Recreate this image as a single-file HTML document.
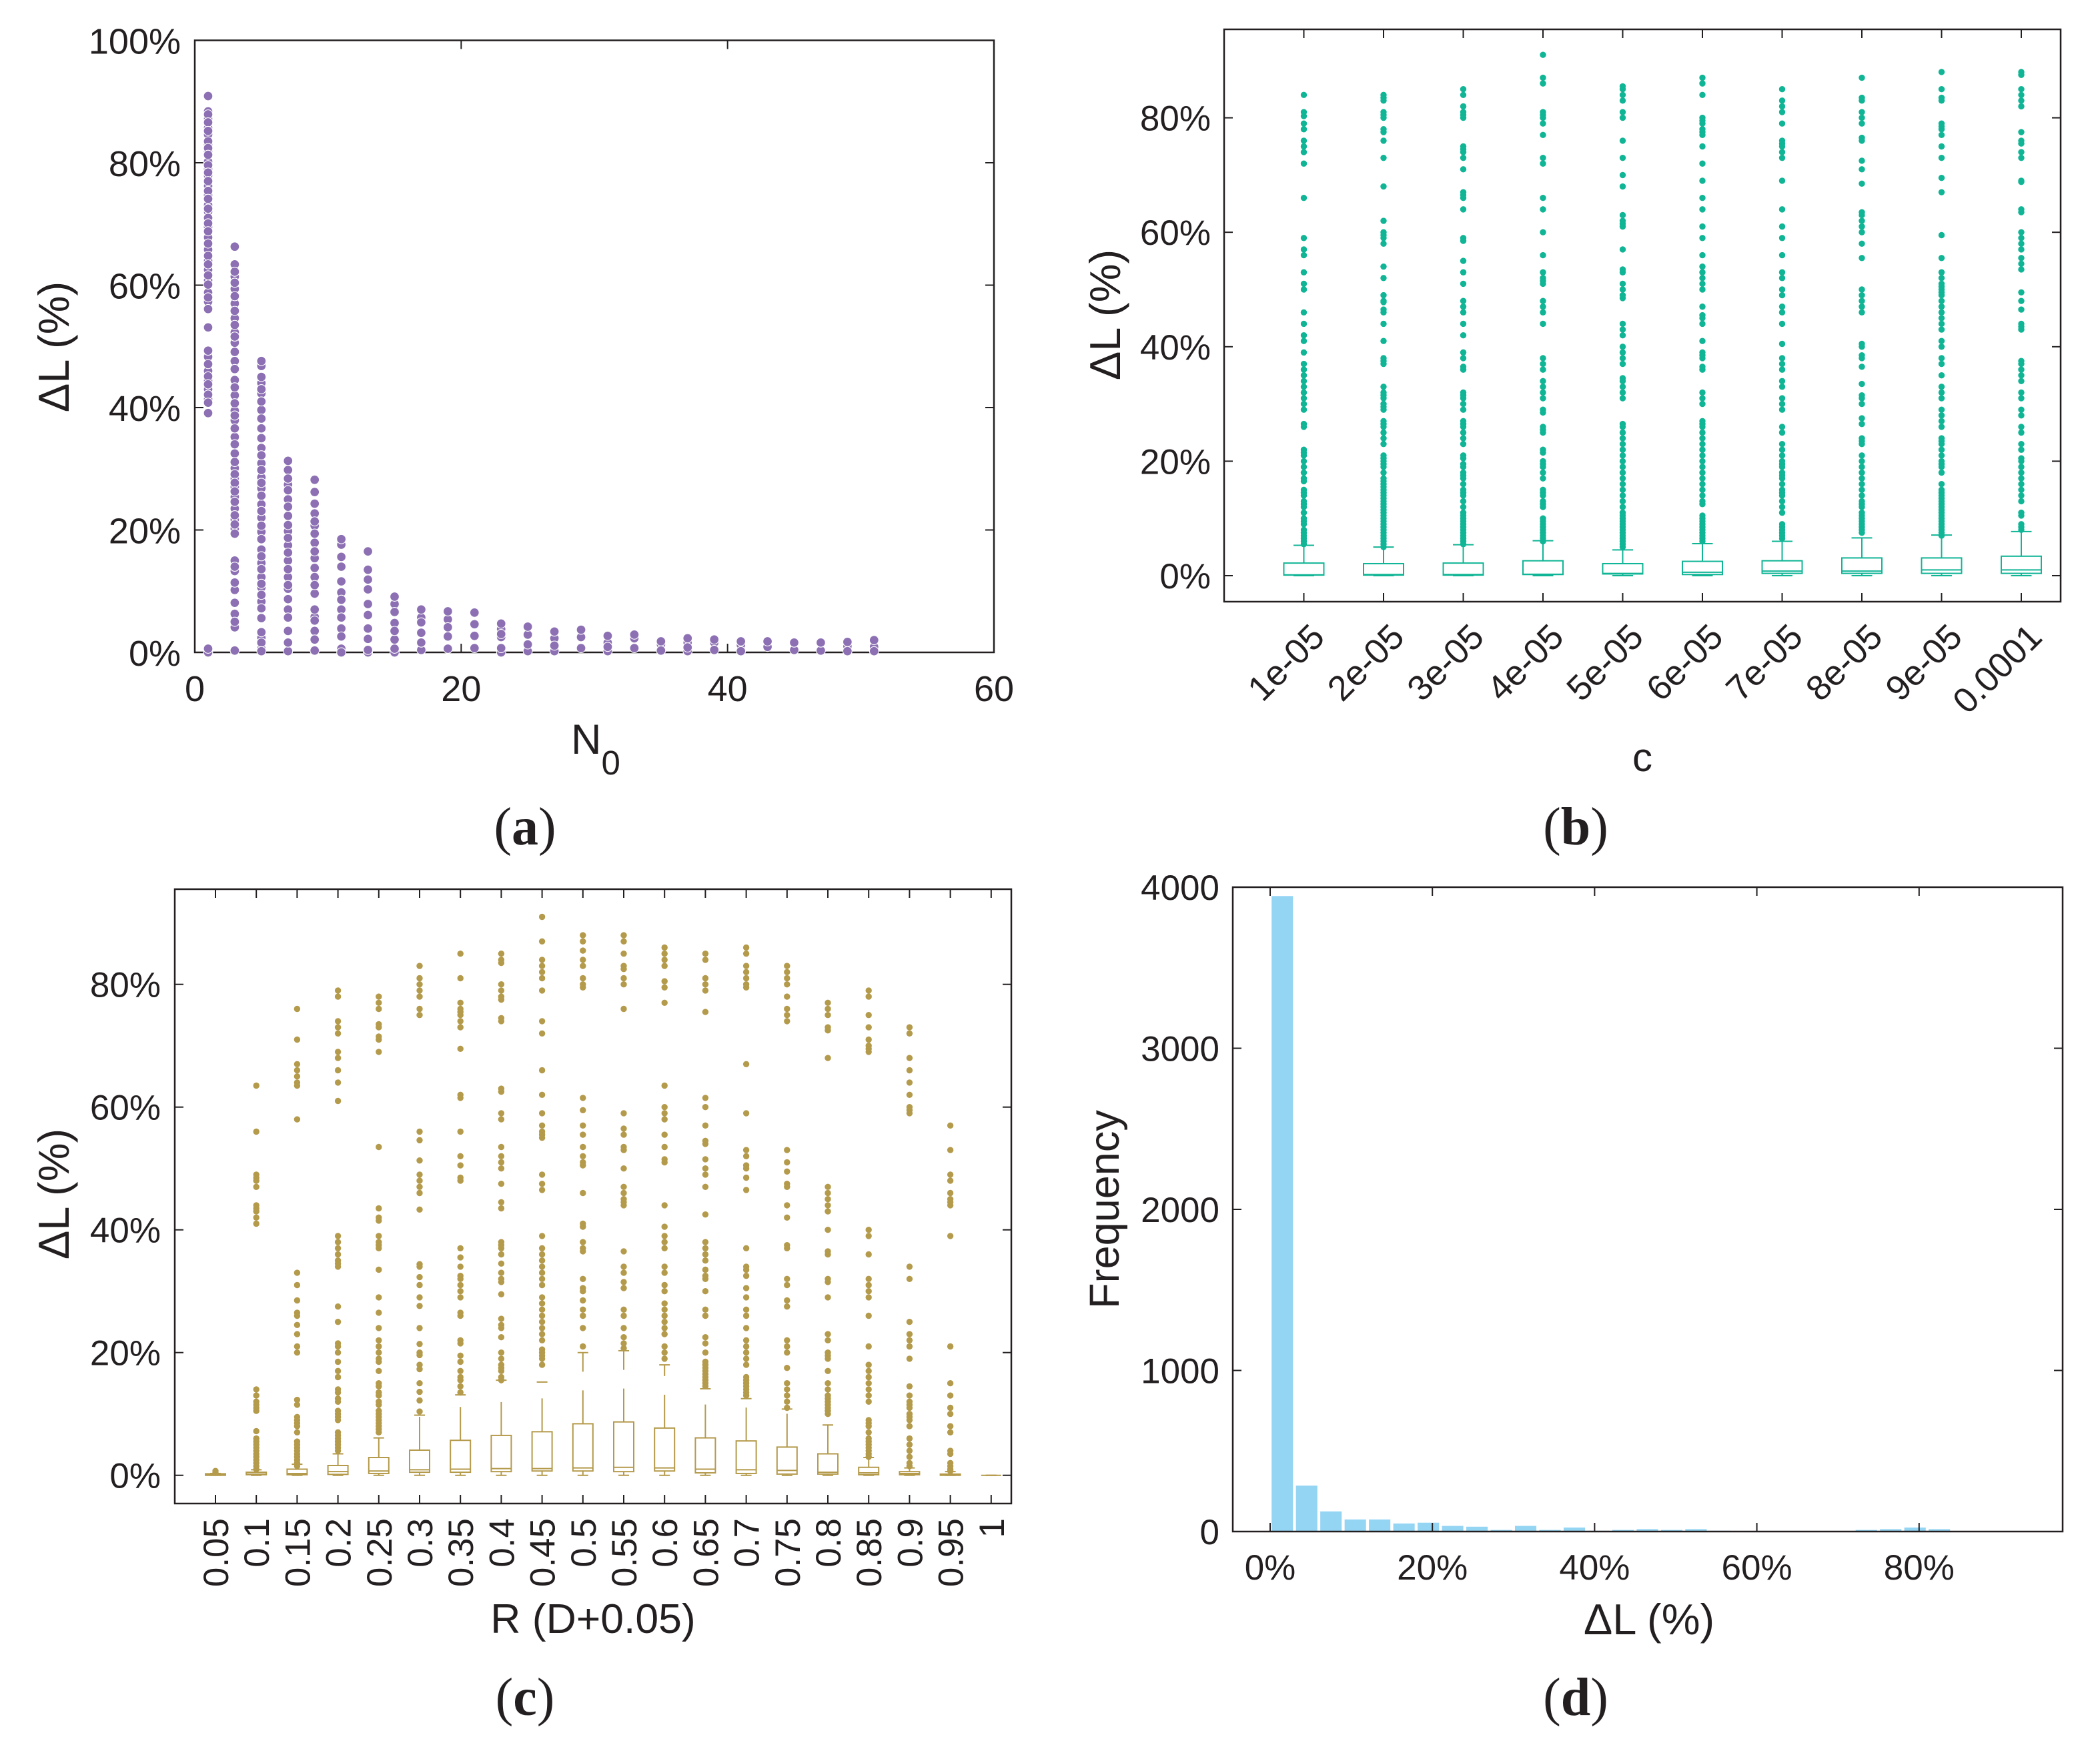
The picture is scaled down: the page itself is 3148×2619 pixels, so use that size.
<!DOCTYPE html>
<html lang="en">
<head>
<meta charset="utf-8">
<title>Four-panel chart of delta L</title>
<style>
html,body{margin:0;padding:0;background:#fff}
svg{display:block}
text{font-family:"Liberation Sans",sans-serif;fill:#231f20}
.cap{font-family:"Liberation Serif",serif;font-size:80px}
</style>
</head>
<body>
<svg id="figure" xmlns="http://www.w3.org/2000/svg" width="3148" height="2619" viewBox="0 0 3148 2619">
<rect width="3148" height="2619" fill="#fff"/>
<g id="a"></g>
<g id="b"></g>
<g id="c"></g>
<g id="d"></g>

<text font-size="65" text-anchor="middle" transform="translate(103 520) rotate(-90)">ΔL (%)</text>
<text font-size="63" x="856" y="1130">N<tspan font-size="51" dy="31">0</tspan></text>
<text font-size="65" text-anchor="middle" transform="translate(1679 472) rotate(-90)">ΔL (%)</text>
<text font-size="60" text-anchor="middle" x="2462" y="1156">c</text>
<text font-size="65" text-anchor="middle" transform="translate(103 1790) rotate(-90)">ΔL (%)</text>
<text font-size="62.5" text-anchor="middle" x="889" y="2448">R (D+0.05)</text>
<text font-size="63" text-anchor="middle" transform="translate(1677 1813) rotate(-90)">Frequency</text>
<text font-size="65" text-anchor="middle" x="2472" y="2450">ΔL (%)</text>

<text class="cap" text-anchor="middle" x="787" y="1266">(<tspan font-weight="bold">a</tspan>)</text>
<text class="cap" text-anchor="middle" x="2362" y="1266">(<tspan font-weight="bold">b</tspan>)</text>
<text class="cap" text-anchor="middle" x="787" y="2571">(<tspan font-weight="bold">c</tspan>)</text>
<text class="cap" text-anchor="middle" x="2362" y="2571">(<tspan font-weight="bold">d</tspan>)</text>
</svg>
<script>
// ---------- Panel (a) data ----------
const aXTicks = [0, 20, 40, 60];
const aYTicks = [0, 20, 40, 60, 80, 100];
const aN0 = [1,3,5,7,9,11,13,15,17,19,21,23,25,27,29,31,33,35,37,39,41,43,45,47,49,51];
const aLoss = [
[90.9,88.4,87.9,87.2,86.6,85.7,85.2,84.6,83.5,83,82.4,81.9,81.3,80.2,79.6,79,78.4,77.9,77,76.2,75.4,74.7,74.1,73.1,72.5,72,71,70.5,70.1,69.5,68.8,67.8,66.8,65.8,64.8,64,63.4,62.5,61.6,60.8,60.1,58.8,58,57.3,56.1,53.1,49.3,48.3,47.1,46,45.1,44.4,43.8,43,42.1,41.4,40.8,39.1,0.6,0],
[66.3,63.4,62.2,61.4,60.4,59.4,58.2,57,55.8,54.6,53.5,52.3,51.6,50.6,49.1,47.6,46.3,44.5,43.3,42,40.7,39.5,38.7,37.9,36.6,35.2,34,32.5,31.1,30.1,29.1,28.4,27.7,27,26.3,25.4,24.6,23.5,22.4,21.7,20.9,20.2,19.4,15,14,13.3,11.4,10.2,8.1,6.3,5,4.1,0.3],
[47.6,46.8,45,44,43,42.3,41,39.6,38.2,36.6,35,33.4,32.2,30.9,29.8,28.6,27.7,26.8,25.6,24.2,23.1,22,20.7,19.7,18.5,16.8,15.7,14.6,13.6,12.3,11.2,10.6,9.4,8.3,7.2,5.6,3.3,2.4,1.6,0.6,0.2],
[31.3,29.8,28.4,27.4,26.5,25,23.8,22.3,20.8,19.8,18.7,17.5,16.3,15,13.6,12.3,11,10.4,8.7,7,5.7,3.5,1.6,0.2],
[28.2,26.2,24.3,22.7,21.4,20.7,19.4,17.9,16.5,15.4,13.8,12.3,11,9.6,7,5.8,5.2,3.5,2.1,0.3],
[18.5,17.6,15.6,14,11.6,9.8,8.6,7,5.7,3.9,2.6,0.6,0],
[16.5,13.5,11.9,10.3,7.9,6.1,3.9,2.2,0.4,0],
[9.1,7.9,6.6,4.8,3.5,2.1,0.6,0],
[7,5.7,4.9,3.2,1.6,0.4],
[6.7,5.4,4.1,2.6,0.6],
[6.5,4.6,2.7,0.7],
[4.7,3.8,3,2.5,0.7,0],
[4.2,2.9,1.3,0.2],
[3.4,2.3,1.1,0.2],
[3.7,2.5,0.7],
[2.7,1.6,0.9,0.2],
[2.9,2.3,0.7],
[1.8,1.3,0.3],
[2.3,1.6,0.8,0.2],
[2.1,1.6,0.4],
[1.8,1.2,0.2],
[1.8,0.9],
[1.6,0.4],
[1.6,0.3],
[1.7,1,0.2],
[2,0.9,0.2]
];

// ---------- Panel (b) data ----------
const bCategories = ["1e-05","2e-05","3e-05","4e-05","5e-05","6e-05","7e-05","8e-05","9e-05","0.0001"];
const bYTicks = [0, 20, 40, 60, 80];
const bQ1 = [0.1,0.1,0.1,0.2,0.3,0.2,0.4,0.4,0.4,0.4];
const bMedian = [0.15,0.2,0.2,0.25,0.4,0.6,0.8,0.8,1,1];
const bQ3 = [2.2,2.1,2.2,2.6,2.1,2.5,2.6,3.1,3.1,3.4];
const bWhiskerHigh = [5.3,5,5.4,6.1,4.5,5.6,6,6.6,7.1,7.7];
const bWhiskerLow = [0,0,0,0,0,0,0,0,0,0];
const bOutliers = [
[84,81,80.3,79,78,76,75,74,72,66,59,57,56,53,51,50,46,44,42,41,39,37,36,35,34,33,32,31,30,29,26.5,26,22,21.5,21,20,19,18,17,16.5,15,14.5,14,13,12.5,12,11,10,9.5,9,8,7.5,7,6.5,6,5.5],
[84,83.5,83,81,80.5,80,78,77.5,76,73,68,62,60,59.5,59,58,54,52,49,48,47.8,46.5,46,44,41,38,37.5,37,33,32,31.5,31,30,29.5,29,27,26.5,26,25,24,23,21,20.5,20,19.5,19,18,17,16.5,16,15.5,15,14.5,14,13.5,13,12.5,12,11.5,11,10.5,10,9.5,9,8.5,8,7.5,7,6.5,6,5.5,5],
[85,84,82,81,80.5,80,75,74.5,74,73,71,67,66.5,66,64,59,58.5,55,53,51,48,47,46,44,42,39,38,36.5,36,32,31.5,31,30,29,27,26.5,26,25,24,23,21,20.5,19.5,19,18,17.5,17,16,15,14.5,14,13,12,11,10.5,10,9.5,9,8.5,8,7.5,7,6.5,6,5.5],
[91,87,86,81,80.5,80,79,77,73,72,66,64,60,56,53,52,51.5,51,48,47,46,44,38,37,36,34,33,32,31,29,28.5,26,25.5,25,22,21.5,20,19.5,19,18,17,15,14.5,14,13,12.5,12,10,9.5,9,8.5,8,7.5,7,6.5,6],
[85.5,85,84,83,81,80,76,73,70,68,63,62,61.5,61,57,53.5,53,51,50,49,48.5,44,43,42,40,39,38,37,34.5,34,33,32,31,26.5,26,25,24,23,22,21,20,19,18,17,16,15,14,13,12,11,10.5,10,9.5,9,8.5,8,7.5,7,6.5,6,5.5,5],
[87,86,84,80,79.5,79,78,77.5,77,75,72,69,66,64,61,59,56,54,53,52,51,50,47,45.5,45,44,41,39,38.5,38,36.5,36,32,31,30,27,26.5,26,25,24,23,22,21,20,19,18,17,16,15,14,13,12.5,10.5,10,9.5,9,8.5,8,7.5,7,6.5,6],
[85,83,82,81,79,76,75.5,75,74,73,69,64,61,59,56,53,52,50,49,47,46,44,40.5,38,37,36,34,33,31,30,29,26,25,23,22,21,20,19.5,19,18,17.5,17,16,15,14.5,14,13,12,11,9,8.5,8,7.5,7,6.5],
[87,83.5,83,81,80,79,76.5,76,72.5,71,68.5,63.5,63,62,61,60,58,55.5,50,49,48,47,46,40.5,40,38.5,38,36.5,33.5,31.5,31,30,27.5,26.5,24,23.5,23,21,20,19,18,17,16,15,14,13,12.5,12,11,10.5,10,9.5,9,8.5,8,7.5],
[88,85,83.5,83,79,78.5,78,77,75,73,69.5,67,59.5,55.5,53,52,51,50.5,50,49.5,49,48,47,46,45,44,43,41,40,38,37,35,33,32,31,29,28,27,26,24,23.5,23,22,21,20,19.5,19,18,16,15,14.5,14,13.5,13,12.5,12,11.5,11,10.5,10,9.5,9,8.5,8,7.5,7],
[88,87.5,85,84,83,82,77.5,76,75.5,74,73,69,68.8,64,63.5,60,59,58,57,55.5,54.5,53.5,49.5,48,46.5,44,43.5,43,37.5,37,36,35,34,32,31,29,28,26,25,23,22,20.5,20,19,18,17,16,15,14,13,11,10.5,9,8.5,8]
];

// ---------- Panel (c) data ----------
const cCategories = ["0.05","0.1","0.15","0.2","0.25","0.3","0.35","0.4","0.45","0.5","0.55","0.6","0.65","0.7","0.75","0.8","0.85","0.9","0.95","1"];
const cYTicks = [0, 20, 40, 60, 80];
const cQ1 = [0,0.1,0.1,0.15,0.3,0.5,0.5,0.6,0.7,0.7,0.6,0.7,0.4,0.3,0.2,0.2,0.1,0.1,0,0];
const cMedian = [0.1,0.2,0.3,0.6,0.7,0.9,1,1.1,1.1,1.2,1.3,1.2,1,0.9,0.8,0.5,0.4,0.3,0.05,0];
const cQ3 = [0.25,0.5,1,1.6,2.9,4.1,5.7,6.5,7.1,8.4,8.7,7.7,6.1,5.6,4.6,3.5,1.3,0.6,0.2,0];
const cWhiskerHigh = [0.3,0.9,1.8,3.5,6.1,9.8,13.1,15.5,15.2,20,20.3,18,14.1,12.5,10.8,8.2,2.9,1.2,0.6,0];
const cWhiskerLow = [0,0,0,0,0,0,0,0,0,0,0,0,0,0,0,0,0,0,0,0];
const cOutliers = [
[0.7,0.4],
[63.5,56,49,48.5,48,47,44,43.5,43,42,41,14,13,12,11.5,11,10.5,7.2,6,5.5,5,4.5,4,3.5,3,2.5,2,1.5,1],
[76,71,67,66,65,64,63.5,58,33,31,28.5,26.5,26,24.5,23,21,20,12.3,11.5,9.5,9,8.5,8,7,5.5,5,4.5,4,3.5,3,2.5,2,1.5],
[79,78,74,73,72,69,68,66,64,61,39,38,37,36,35,34.5,34,27.5,25,21.5,21,20,18.5,17,16,14,13.5,12.5,12,10.5,10,9.5,9,7,6.5,6,5.5,5,4.5,4],
[78,77,76,73.5,73,71.5,71,69,53.5,43.5,42,41.5,39,38,37.5,37,33.5,29,26.5,24,22,21,20,19,18.5,17,15,14.5,13.5,13,12,11.5,10.5,10,9.5,9,8.5,8,7.5,7],
[83,81,80,79,78,76,75,56,54.6,51.3,49,48,47,46,43.3,34.4,34,32.3,31,29,27.6,24,21.4,20,19.6,18,17.3,15,13.6,12.2,10.4],
[85,81,77,76,75.5,75,74,73,69.5,62,61.5,56,52,50.5,48.5,48,37,35.5,34,32.5,32,31,30,29,26.5,26,22,21.5,19.5,18.5,17,16,15.5,14.5,13.5],
[85,84,83.5,80,79,78,77.5,74.5,74,63,62.5,59,58,53.5,52,51,50,47.5,44.5,43.5,38,37.5,37,36,34.5,33,32,31.5,29.5,25.5,24.5,24,22.5,20,19,18,17.5,17,16,15.5],
[91,87,84,83,82,81,79,74,72,66,62,59,57,56,55.5,55,49,47.5,46.5,39,37,36,35,34,33,32,31,29,28,27,26,25,24,23,22,20.5,20,19.5,19,18],
[88,87,85.5,84,83,81,80,79.5,61.5,59.5,57,55.5,53.5,52,51,50.5,46,41,40.5,38,37,36.5,32,30.5,30,28.5,27,26,24,21],
[88,87,85,83,82.5,81,80,76,59,56.5,55.5,53.5,53,50,47,46,45,44.5,44,36.5,34,33,31.5,30.5,27,26,24,22.5,21.5,20.7],
[86,85,84,83,80.5,79.5,77,63.5,60,59,58,55.5,53.5,51.5,51,44,40.5,39,38,37,34,33,31,30,28,27,26,25,24,23,21,20,19],
[85,84,81,80,79,75.5,61.5,60,57,54.5,54,51.5,50,49,47,42.5,38,37,36,35,33.5,32.5,32,30,27,26,22.5,21.5,20,18.5,18,17.5,17,16.5,16,15.5,15,14.5],
[86,85,83,82,81,80,79.5,67,59,53,52,50.5,50,48.5,46.5,37,34,33.5,32.5,30.5,29,27,26,24,22,21,20,19,18,16,15.5,15,14.5,14,13.5,13],
[83,82,81,80,78,76,75,74,53,51,49.5,47.5,47,44,42,37.5,37,32,31,28.5,27.5,22,21,20,17.5,15,14,13,12,11],
[77,76,75,73,72.5,68,47,46,45,44,43,40,36.5,36,32,31.5,29,23,22,20,19.5,19,17,15,14,13,12.5,12,11.5,11,10.5,10],
[79,78,75,73,71,70,69.5,69,40,39,36,32,31,30,29,26,21,18,17,16,15,14,13,12,9,8.5,8,7,6,5.5,5,4.5,4,3.5,3],
[73,72,68,66,64,62,60,59.5,59,34,32,25,23,22,21,19,14.5,13,12,11.5,11,10,9.5,9,8,6,5,4,3,2,1.5],
[57,53,49,48,46,45,44.5,44,39,21,15,13,11,10,8,7,4,3.5,2,1.5,1,0.7],
[]
];

// ---------- Panel (d) data ----------
const dXTicks = [0, 20, 40, 60, 80];
const dYTicks = [0, 1000, 2000, 3000, 4000];
const dBinWidth = 3;
const dFrequency = [3945,285,125,75,75,50,55,35,30,10,35,10,25,5,10,15,10,15,5,3,0,0,0,0,10,15,25,15];

// ---------- Helpers ----------
const NS = 'http://www.w3.org/2000/svg';
const INK = '#231f20';
function make(parent, tag, attrs) {
  const node = document.createElementNS(NS, tag);
  for (const k in attrs) node.setAttribute(k, attrs[k]);
  parent.appendChild(node);
  return node;
}
function tickLabel(parent, text, x, y, size, anchor, rotate) {
  const attrs = {x: x, y: y, 'font-size': size, 'text-anchor': anchor};
  if (rotate) attrs.transform = 'rotate(' + rotate + ' ' + x + ' ' + y + ')';
  const t = make(parent, 'text', attrs);
  
  
  t.textContent = text;
  return t;
}
function tick(parent, x1, y1, x2, y2) {
  const l = make(parent, 'line', {x1: x1, y1: y1, x2: x2, y2: y2, stroke: INK, 'stroke-width': 2});
  
  
}
function frame(parent, box) {
  const r = make(parent, 'rect', {x: box.l, y: box.t, width: box.r - box.l, height: box.b - box.t, fill: 'none', stroke: INK, 'stroke-width': 2.5});
  
  
}
function xTicks(parent, box, positions) {
  positions.forEach(function (x) {
    tick(parent, x, box.b, x, box.b - 13);
    tick(parent, x, box.t, x, box.t + 13);
  });
}
function yTicks(parent, box, positions) {
  positions.forEach(function (y) {
    tick(parent, box.l, y, box.l + 13, y);
    tick(parent, box.r, y, box.r - 13, y);
  });
}
function dot(parent, x, y, r, color, ring) {
  const attrs = {cx: x, cy: y, r: r, fill: color};
  if (ring) { attrs.stroke = '#fff'; attrs['stroke-width'] = ring; }
  const c = make(parent, 'circle', attrs);
  
  
}
function boxplot(parent, x, halfBox, halfCap, sy, q1, med, q3, hi, lo, color, dash) {
  const w = 2;
  const up = {x1: x, y1: sy(q3), x2: x, y2: sy(hi), stroke: color, 'stroke-width': w};
  if (dash) up['stroke-dasharray'] = dash;
  const whiskerHigh = make(parent, 'line', up);
  
  
  const whiskerLow = make(parent, 'line', {x1: x, y1: sy(q1), x2: x, y2: sy(lo), stroke: color, 'stroke-width': w});
  
  
  const capHigh = make(parent, 'line', {x1: x - halfCap, y1: sy(hi), x2: x + halfCap, y2: sy(hi), stroke: color, 'stroke-width': w});
  
  
  const capLow = make(parent, 'line', {x1: x - halfCap, y1: sy(lo), x2: x + halfCap, y2: sy(lo), stroke: color, 'stroke-width': w});
  
  
  const box = make(parent, 'rect', {x: x - halfBox, y: sy(q3), width: 2 * halfBox, height: sy(q1) - sy(q3), fill: '#fff', stroke: color, 'stroke-width': w});
  
  
  const median = make(parent, 'line', {x1: x - halfBox, y1: sy(med), x2: x + halfBox, y2: sy(med), stroke: color, 'stroke-width': w});
  
  
}

// ---------- Panel (a) ----------
(function () {
  const g = document.getElementById('a');
  const box = {l: 292, r: 1490, t: 60.5, b: 978};
  const sx = function (v) { return box.l + (v / 60) * (box.r - box.l); };
  const sy = function (v) { return box.b - (v / 100) * (box.b - box.t); };
  frame(g, box);
  xTicks(g, box, aXTicks.slice(1, 3).map(sx));
  yTicks(g, box, aYTicks.slice(1, 5).map(sy));
  aXTicks.forEach(function (v) { tickLabel(g, String(v), sx(v), 1051, 54, 'middle'); });
  aYTicks.forEach(function (v) { tickLabel(g, v + '%', 271, sy(v) + 20, 54, 'end'); });
  aN0.forEach(function (n, i) {
    // Alternate draw order so that every other marker stays whole, as in the reference
    aLoss[i].forEach(function (v, k) { if (k % 2 === 1) dot(g, sx(n), sy(v), 6.9, '#8d70b3', 1.1); });
    aLoss[i].forEach(function (v, k) { if (k % 2 === 0) dot(g, sx(n), sy(v), 6.9, '#8d70b3', 1.1); });
  });
})();

// ---------- Panel (b) ----------
(function () {
  const g = document.getElementById('b');
  const box = {l: 1835, r: 3089, t: 44, b: 902};
  const zero = 863, perPct = 8.58;
  const cat0 = 1954.5, step = 119.5;
  const sx = function (i) { return cat0 + i * step; };
  const sy = function (v) { return zero - v * perPct; };
  frame(g, box);
  xTicks(g, box, bCategories.map(function (c, i) { return sx(i); }));
  yTicks(g, box, bYTicks.map(sy));
  bYTicks.forEach(function (v) { tickLabel(g, v + '%', 1815, sy(v) + 19, 53, 'end'); });
  bCategories.forEach(function (c, i) { tickLabel(g, c, sx(i) + 34, 958, 53, 'end', -45); });
  bCategories.forEach(function (c, i) {
    boxplot(g, sx(i), 30, 15.5, sy, bQ1[i], bMedian[i], bQ3[i], bWhiskerHigh[i], bWhiskerLow[i], '#10b596');
    bOutliers[i].forEach(function (v) { dot(g, sx(i), sy(v), 4.7, '#10b596'); });
  });
})();

// ---------- Panel (c) ----------
(function () {
  const g = document.getElementById('c');
  const box = {l: 262, r: 1516, t: 1333, b: 2254};
  const zero = 2211.7, perPct = 9.2;
  const cat0 = 323, step = 61.2;
  const sx = function (i) { return cat0 + i * step; };
  const sy = function (v) { return zero - v * perPct; };
  frame(g, box);
  xTicks(g, box, cCategories.map(function (c, i) { return sx(i); }));
  yTicks(g, box, cYTicks.map(sy));
  cYTicks.forEach(function (v) { tickLabel(g, v + '%', 241, sy(v) + 19, 53, 'end'); });
  cCategories.forEach(function (c, i) { tickLabel(g, c, sx(i) + 19, 2276, 53, 'end', -90); });
  cCategories.forEach(function (c, i) {
    boxplot(g, sx(i), 15, 8, sy, cQ1[i], cMedian[i], cQ3[i], cWhiskerHigh[i], cWhiskerLow[i], '#b49a4b', '50 28');
    cOutliers[i].forEach(function (v) { dot(g, sx(i), sy(v), 4.7, '#b49a4b'); });
  });
})();

// ---------- Panel (d) ----------
(function () {
  const g = document.getElementById('d');
  const box = {l: 1848, r: 3092, t: 1330, b: 2296};
  const zero = 1904, perPct = 12.16;
  const sx = function (v) { return zero + v * perPct; };
  const sy = function (v) { return box.b - (v / 4000) * (box.b - box.t); };
  dFrequency.forEach(function (f, i) {
    const center = sx(dBinWidth * (i + 0.5));
    const width = dBinWidth * perPct * 0.88;
    const bar = make(g, 'rect', {x: center - width / 2, y: sy(f), width: width, height: box.b - sy(f), fill: '#95d5f4'});
    
    
  });
  frame(g, box);
  xTicks(g, box, dXTicks.map(sx));
  yTicks(g, box, dYTicks.slice(1, 4).map(sy));
  dXTicks.forEach(function (v) { tickLabel(g, v + '%', sx(v), 2368, 53, 'middle'); });
  dYTicks.forEach(function (v) { tickLabel(g, String(v), 1828, sy(v) + 19, 53, 'end'); });
})();
</script>
</body>
</html>
